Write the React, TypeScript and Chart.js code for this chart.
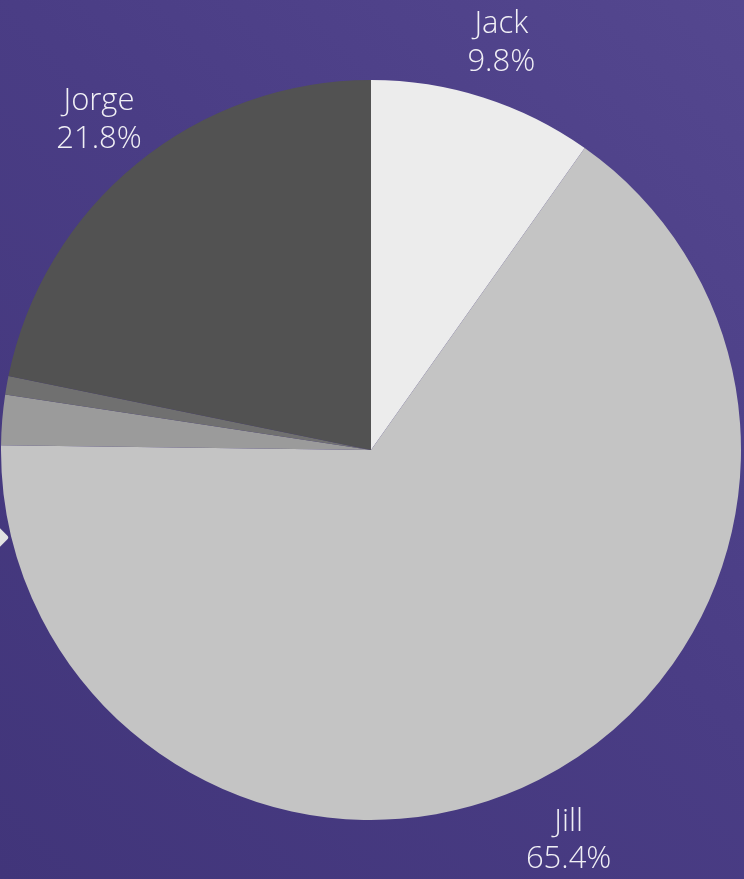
import React, { useEffect, useRef } from "react";
import { Chart, registerables } from "chart.js";

Chart.register(...registerables);

const labels = ["Jack", "Jill", "Other A", "Other B", "Jorge"];
const values = [9.8, 65.4, 2.2, 0.8, 21.8];
const colors = ["#ececec", "#c4c4c4", "#9b9b9b", "#707070", "#525252"];
const minLabelPct = 5;

const outsideLabels = {
  id: "outsideLabels",
  afterDatasetsDraw(chart: any) {
    const ctx = chart.ctx;
    const meta = chart.getDatasetMeta(0);
    const data = chart.data.datasets[0].data as number[];
    const total = data.reduce((a, b) => a + b, 0);
    ctx.save();
    ctx.font = "300 31px 'Open Sans'";
    ctx.fillStyle = "rgba(255,255,255,0.92)";
    ctx.textAlign = "center";
    ctx.textBaseline = "middle";
    meta.data.forEach((arc: any, i: number) => {
      const pct = (data[i] / total) * 100;
      if (pct < minLabelPct) return;
      const p = arc.getProps(["x", "y", "startAngle", "endAngle", "outerRadius"], true);
      const mid = (p.startAngle + p.endAngle) / 2;
      const sin = Math.sin(mid);
      const r = p.outerRadius + 60 + Math.max(0, sin) * 6;
      const cx = p.x + Math.cos(mid) * r;
      const cy = p.y + sin * r + 3;
      const lh = 37.5;
      ctx.fillText(String(chart.data.labels[i]), cx, cy - lh / 2);
      ctx.fillText(pct.toFixed(1) + "%", cx, cy + lh / 2);
    });
    ctx.restore();
  },
};

export default function App() {
  const ref = useRef<HTMLCanvasElement | null>(null);
  useEffect(() => {
    if (!ref.current) return;
    const chart = new Chart(ref.current, {
      type: "pie",
      data: {
        labels,
        datasets: [
          {
            data: values,
            backgroundColor: colors,
            borderWidth: 0,
          },
        ],
      },
      options: {
        responsive: false,
        animation: false,
        layout: { padding: { left: 1, right: 3, top: 80, bottom: 59 } },
        plugins: {
          legend: { display: false },
          tooltip: { enabled: false },
        },
      },
      plugins: [outsideLabels],
    });
    return () => chart.destroy();
  }, []);
  return (
    <div
      style={{
        position: "fixed",
        left: 0,
        top: 0,
        width: 744,
        height: 879,
        overflow: "hidden",
        background: "linear-gradient(225deg, #54478f 0%, #4a3d85 45%, #41357a 100%)",
      }}
    >
      <div
        style={{
          position: "absolute",
          left: -16,
          top: 527,
          width: 21,
          height: 21,
          background: "#e2e2e2",
          transform: "rotate(45deg)",
          borderRadius: 3,
        }}
      />
      <canvas ref={ref} width={744} height={879} style={{ position: "absolute", left: 0, top: 0 }} />
    </div>
  );
}
